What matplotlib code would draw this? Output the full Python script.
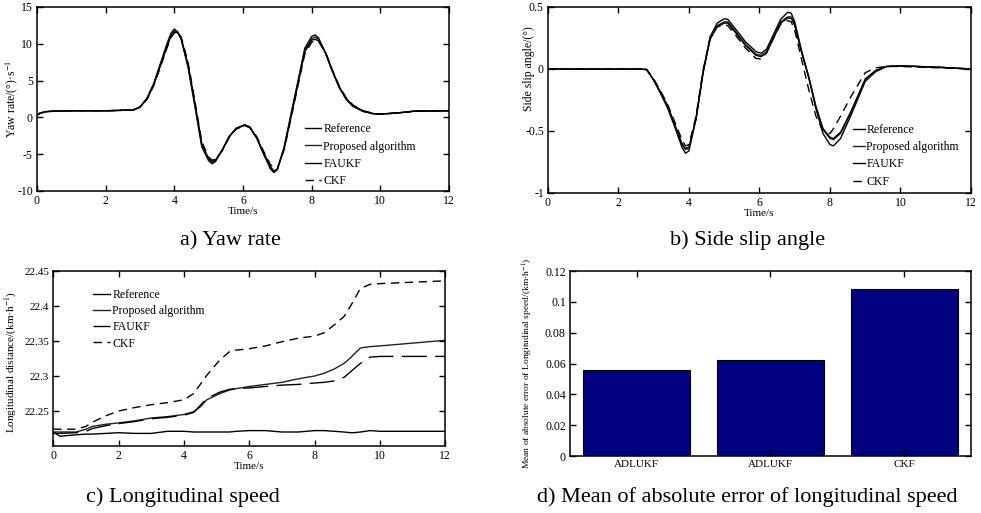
import matplotlib
matplotlib.use("Agg")
import matplotlib.pyplot as plt

plt.rcParams["font.family"] = ["Liberation Serif", "DejaVu Serif"]
plt.rcParams["mathtext.fontset"] = "stix"
plt.rcParams["axes.unicode_minus"] = False

# a) Yaw rate
t_a = [0, 0.1, 0.3, 0.6, 1, 2, 2.8, 3.0, 3.2, 3.4, 3.6, 3.8, 3.9, 4.0, 4.1, 4.2, 4.4, 4.6, 4.8,
       5.0, 5.1, 5.2, 5.4, 5.6, 5.8, 6.05, 6.2, 6.4, 6.6, 6.8, 6.9, 7.0, 7.2, 7.4, 7.6, 7.8,
       8.0, 8.1, 8.2, 8.4, 8.6, 8.8, 9.0, 9.2, 9.5, 9.8, 10.0, 10.5, 11, 12]
yaw_ref = [0.3, 0.6, 0.8, 0.85, 0.9, 0.9, 1.0, 1.4, 2.6, 4.6, 7.4, 10.2, 11.4, 12.0, 11.6, 10.6,
           6.8, 1.5, -4.0, -5.9, -6.3, -6.0, -4.4, -2.6, -1.5, -1.0, -1.3, -2.8, -5.0, -7.0, -7.5,
           -7.1, -4.0, 0.5, 4.9, 9.4, 11.0, 11.2, 10.8, 8.8, 6.3, 4.1, 2.5, 1.5, 0.8, 0.5, 0.45,
           0.6, 0.85, 0.9]
yaw_prop = [0.3, 0.6, 0.8, 0.85, 0.9, 0.9, 1.0, 1.4, 2.5, 4.5, 7.2, 10.0, 11.2, 11.8, 11.6, 10.7,
            7.0, 1.7, -3.8, -5.8, -6.1, -5.9, -4.4, -2.6, -1.5, -1.0, -1.3, -2.8, -4.9, -6.9, -7.4,
            -7.1, -4.1, 0.3, 4.7, 9.1, 10.7, 10.9, 10.6, 8.8, 6.3, 4.1, 2.5, 1.5, 0.8, 0.5, 0.45,
            0.6, 0.85, 0.9]
yaw_fau = [0.3, 0.6, 0.8, 0.85, 0.9, 0.9, 1.0, 1.4, 2.5, 4.4, 7.1, 9.8, 11.0, 11.6, 11.5, 10.7,
           7.2, 1.9, -3.6, -5.6, -6.0, -5.8, -4.4, -2.6, -1.5, -1.1, -1.4, -2.8, -4.8, -6.7, -7.3,
           -7.0, -4.2, 0.1, 4.5, 8.9, 10.5, 10.6, 10.4, 8.8, 6.4, 4.2, 2.6, 1.6, 0.9, 0.5, 0.45,
           0.6, 0.85, 0.9]
yaw_ckf = [0.3, 0.6, 0.8, 0.85, 0.9, 0.9, 1.0, 1.4, 2.4, 4.3, 6.9, 9.6, 10.8, 11.5, 11.6, 10.9,
           7.5, 2.2, -3.3, -5.4, -5.8, -5.7, -4.5, -2.7, -1.6, -1.1, -1.4, -2.6, -4.6, -6.4, -6.9,
           -6.9, -4.4, -0.1, 4.3, 8.6, 10.2, 10.4, 10.3, 8.9, 6.5, 4.3, 2.7, 1.7, 0.9, 0.55, 0.45,
           0.6, 0.85, 0.9]

# b) Side slip angle
t_b = [0, 1, 2, 2.6, 2.8, 3.0, 3.2, 3.4, 3.6, 3.8, 3.9, 4.0, 4.2, 4.4, 4.6, 4.8, 5.0, 5.1, 5.3,
       5.6, 5.9, 6.05, 6.2, 6.4, 6.6, 6.8, 6.9, 7.0, 7.2, 7.4, 7.6, 7.8, 8.0, 8.1, 8.3, 8.6, 9.0,
       9.3, 9.6, 10, 11, 12]
slip_ref = [0, 0, 0, 0, -0.005, -0.09, -0.2, -0.32, -0.47, -0.63, -0.68, -0.66, -0.40, -0.02,
            0.26, 0.37, 0.405, 0.40, 0.33, 0.22, 0.14, 0.127, 0.16, 0.28, 0.40, 0.457, 0.45, 0.38,
            0.14, -0.07, -0.32, -0.52, -0.61, -0.62, -0.56, -0.37, -0.10, -0.02, 0.02, 0.025,
            0.015, 0.0]
slip_prop = [0, 0, 0, 0, -0.005, -0.09, -0.2, -0.31, -0.46, -0.61, -0.65, -0.64, -0.40, -0.03,
             0.25, 0.35, 0.38, 0.38, 0.31, 0.20, 0.12, 0.11, 0.14, 0.26, 0.38, 0.42, 0.42, 0.36,
             0.13, -0.07, -0.31, -0.49, -0.56, -0.57, -0.52, -0.35, -0.09, -0.02, 0.02, 0.025,
             0.015, 0.0]
slip_fau = [0, 0, 0, 0, -0.005, -0.09, -0.19, -0.30, -0.45, -0.60, -0.64, -0.63, -0.40, -0.03,
            0.24, 0.34, 0.37, 0.37, 0.30, 0.19, 0.11, 0.10, 0.13, 0.25, 0.37, 0.41, 0.41, 0.35,
            0.13, -0.07, -0.30, -0.48, -0.55, -0.56, -0.51, -0.34, -0.08, -0.01, 0.02, 0.025,
            0.015, 0.0]
slip_ckf = [0, 0, 0, 0, -0.005, -0.08, -0.18, -0.29, -0.43, -0.57, -0.62, -0.61, -0.38, -0.01,
            0.25, 0.34, 0.355, 0.35, 0.28, 0.17, 0.085, 0.08, 0.13, 0.25, 0.36, 0.39, 0.38, 0.31,
            0.07, -0.17, -0.38, -0.50, -0.52, -0.48, -0.38, -0.22, -0.03, 0.01, 0.02, 0.02,
            0.01, 0.0]

# c) Longitudinal speed
t_c = [0, 0.2, 0.7, 1.0, 1.2, 1.6, 2, 2.5, 3, 3.5, 4, 4.3, 4.5, 4.7, 5.1, 5.4, 5.6, 6, 6.5, 7,
       7.5, 8, 8.3, 8.6, 8.9, 9.1, 9.2, 9.4, 9.7, 10, 11, 12]
spd_ref = [22.220, 22.214, 22.216, 22.217, 22.217, 22.218, 22.219, 22.218, 22.218, 22.221,
           22.221, 22.220, 22.220, 22.220, 22.220, 22.220, 22.221, 22.222, 22.222, 22.220,
           22.220, 22.222, 22.222, 22.221, 22.220, 22.219, 22.219, 22.220, 22.222, 22.221,
           22.221, 22.221]
spd_prop = [22.220, 22.220, 22.220, 22.224, 22.228, 22.231, 22.233, 22.236, 22.240, 22.242,
            22.245, 22.249, 22.256, 22.266, 22.275, 22.280, 22.282, 22.285, 22.288, 22.291,
            22.296, 22.300, 22.304, 22.310, 22.318, 22.326, 22.331, 22.340, 22.342, 22.343,
            22.347, 22.351]
spd_fau = [22.218, 22.218, 22.219, 22.221, 22.225, 22.229, 22.232, 22.235, 22.239, 22.241,
           22.244, 22.248, 22.258, 22.268, 22.277, 22.281, 22.282, 22.283, 22.285, 22.287,
           22.288, 22.290, 22.291, 22.293, 22.298, 22.306, 22.310, 22.318, 22.327, 22.328,
           22.328, 22.328]
spd_ckf = [22.224, 22.224, 22.224, 22.228, 22.234, 22.243, 22.250, 22.255, 22.259, 22.262,
           22.266, 22.275, 22.288, 22.301, 22.323, 22.335, 22.337, 22.339, 22.343, 22.349,
           22.354, 22.357, 22.362, 22.373, 22.385, 22.400, 22.408, 22.425, 22.431, 22.432,
           22.434, 22.436]

# d) Mean absolute error
methods = ["ADLUKF", "ADLUKF", "CKF"]
mae = [0.0555, 0.062, 0.1085]

labels = ["Reference", "Proposed algorithm", "FAUKF", "CKF"]

fig = plt.figure(figsize=(9.81, 5.13), dpi=100)
ax1 = fig.add_axes([0.0377, 0.6277, 0.42, 0.3587])
ax2 = fig.add_axes([0.5586, 0.6238, 0.4312, 0.3626])
ax3 = fig.add_axes([0.0543, 0.1306, 0.3996, 0.3411])
ax4 = fig.add_axes([0.581, 0.1111, 0.4088, 0.3606])

for ax in [ax1, ax2, ax3, ax4]:
    ax.tick_params(direction="in", top=True, right=True, length=4, width=1, labelsize=8.5, pad=3)
    for s in ax.spines.values():
        s.set_linewidth(1.1)

lw = 1.0


def draw_lines(ax, t, ref, prop, fau, ckf, fau_ls="-"):
    ax.plot(t, ref, color="black", lw=lw, label=labels[0])
    ax.plot(t, prop, color="#222222", lw=lw, label=labels[1])
    ax.plot(t, fau, color="black", lw=lw, ls=fau_ls, label=labels[2])
    ax.plot(t, ckf, color="black", lw=lw, ls=(0, (6, 4)), label=labels[3])


# a)
draw_lines(ax1, t_a, yaw_ref, yaw_prop, yaw_fau, yaw_ckf)
ax1.set_xlim(0, 12)
ax1.set_ylim(-10, 15)
ax1.set_xticks(range(0, 13, 2))
ax1.set_yticks([-10, -5, 0, 5, 10, 15])
ax1.set_xlabel("Time/s", fontsize=8, labelpad=0)
ax1.set_ylabel("Yaw rate/(°)·s$^{-1}$", fontsize=8.5)
ax1.yaxis.set_label_coords(-0.042, 0.5)
ax1.legend(loc="upper left", bbox_to_anchor=(0.635, 0.40), frameon=False, fontsize=8.5,
           handlelength=1.4, handletextpad=0.2, labelspacing=0.45, borderpad=0)

# b)
draw_lines(ax2, t_b, slip_ref, slip_prop, slip_fau, slip_ckf)
ax2.set_xlim(0, 12)
ax2.set_ylim(-1, 0.5)
ax2.set_xticks(range(0, 13, 2))
ax2.set_yticks([-1, -0.5, 0, 0.5])
ax2.set_yticklabels(["-1", "-0.5", "0", "0.5"])
ax2.set_xlabel("Time/s", fontsize=8, labelpad=0)
ax2.set_ylabel("Side slip angle/(°)", fontsize=8.5)
ax2.yaxis.set_label_coords(-0.03, 0.67)
ax2.legend(loc="upper left", bbox_to_anchor=(0.708, 0.404), frameon=False, fontsize=8.5,
           handlelength=1.0, handletextpad=0.1, labelspacing=0.45, borderpad=0)

# c)
draw_lines(ax3, t_c, spd_ref, spd_prop, spd_fau, spd_ckf, fau_ls=(0, (18, 6)))
ax3.set_xlim(0, 12)
ax3.set_ylim(22.2, 22.45)
ax3.set_xticks(range(0, 13, 2))
ax3.set_yticks([22.25, 22.3, 22.35, 22.4, 22.45])
ax3.set_yticklabels(["22.25", "22.3", "22.35", "22.4", "22.45"])
ax3.tick_params(axis="y", labelsize=8)
ax3.set_xlabel("Time/s", fontsize=8, labelpad=0)
ax3.set_ylabel("Longitudinal distance/(km·h$^{-1}$)", fontsize=8)
ax3.yaxis.set_label_coords(-0.088, 0.48)
ax3.legend(loc="upper left", bbox_to_anchor=(0.087, 0.93), frameon=False, fontsize=8.5,
           handlelength=1.4, handletextpad=0.2, labelspacing=0.35, borderpad=0)

# d)
x = range(1, len(mae) + 1)
ax4.bar(x, mae, width=0.8, color="#000080", edgecolor="black", linewidth=0.8)
ax4.set_xlim(0.5, 3.5)
ax4.set_ylim(0, 0.12)
ax4.set_xticks(list(x))
ax4.set_xticklabels(methods, fontsize=8)
ax4.set_yticks([0, 0.02, 0.04, 0.06, 0.08, 0.1, 0.12])
ax4.set_yticklabels(["0", "0.02", "0.04", "0.06", "0.08", "0.1", "0.12"])
ax4.set_ylabel("Mean of absolute error of Longitudinal speed/(km·h$^{-1}$)", fontsize=6.8)
ax4.yaxis.set_label_coords(-0.087, 0.5)

# captions
cap = 16
fig.text(0.2345, 0.530, "a) Yaw rate", ha="center", va="center", fontsize=cap)
fig.text(0.7625, 0.532, "b) Side slip angle", ha="center", va="center", fontsize=cap)
fig.text(0.1865, 0.031, "c) Longitudinal speed", ha="center", va="center", fontsize=cap)
fig.text(0.7615, 0.031, "d) Mean of absolute error of longitudinal speed", ha="center",
         va="center", fontsize=cap)

fig.savefig("out.png", dpi=100)
